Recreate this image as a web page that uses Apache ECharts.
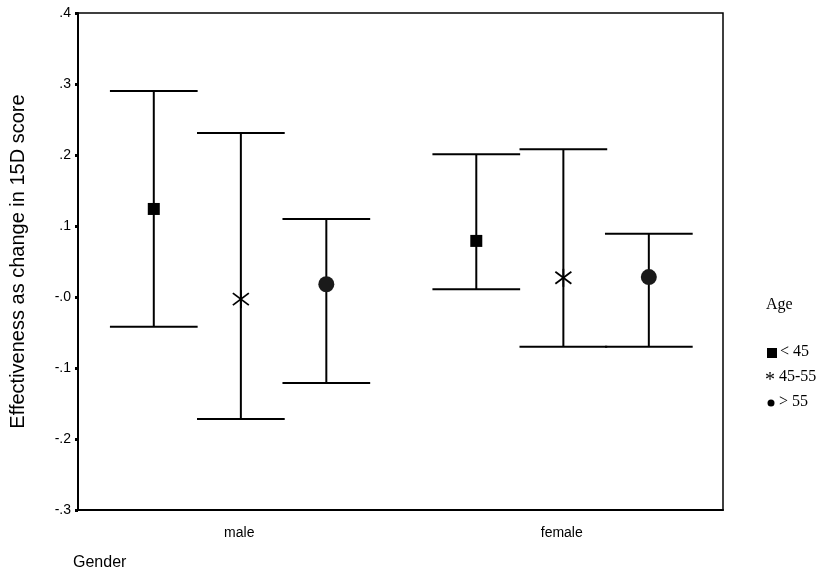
<!DOCTYPE html>
<html>
<head>
<meta charset="utf-8">
<script src="https://cdn.jsdelivr.net/npm/echarts@6/dist/echarts.min.js"></script>
<style>html,body{margin:0;padding:0;background:#fff}#c{width:837px;height:577px}</style>
</head>
<body>
<div id="c"></div>
<script>
const categories = ['male', 'female'];
const ageGroups = ['< 45', '45-55', '> 55'];
const yTickLabels = ['-.3', '-.2', '-.1', '-.0', '.1', '.2', '.3', '.4'];
// per age group: [mean, lower, upper] for male, female
const meanLt45 = [0.124, 0.079];
const lowLt45 = [-0.042, 0.011];
const highLt45 = [0.290, 0.201];
const mean4555 = [-0.003, 0.027];
const low4555 = [-0.172, -0.070];
const high4555 = [0.231, 0.208];
const meanGt55 = [0.018, 0.028];
const lowGt55 = [-0.121, -0.070];
const highGt55 = [0.110, 0.089];

const groups = [
  {mean: meanLt45, low: lowLt45, high: highLt45, marker: 'square', offset: -0.265},
  {mean: mean4555, low: low4555, high: high4555, marker: 'star', offset: 0.005},
  {mean: meanGt55, low: lowGt55, high: highGt55, marker: 'circle', offset: 0.27}
];

function makeSeries(g, idx) {
  const data = categories.map((c, i) => [i, g.low[i], g.high[i], g.mean[i]]);
  return {
    type: 'custom',
    name: ageGroups[idx],
    data: data,
    encode: {x: 0, y: [1, 2, 3]},
    renderItem: function (params, api) {
      const ci = api.value(0);
      const band = api.size([1, 0])[0];
      const cx = api.coord([ci, 0])[0] + g.offset * band;
      const yLo = api.coord([ci, api.value(1)])[1];
      const yHi = api.coord([ci, api.value(2)])[1];
      const yM = api.coord([ci, api.value(3)])[1];
      const half = band * 0.136;
      const ls = {stroke: '#000', lineWidth: 2};
      const children = [
        {type: 'line', shape: {x1: cx, y1: yHi, x2: cx, y2: yLo}, style: ls},
        {type: 'line', shape: {x1: cx - half, y1: yHi, x2: cx + half, y2: yHi}, style: ls},
        {type: 'line', shape: {x1: cx - half, y1: yLo, x2: cx + half, y2: yLo}, style: ls}
      ];
      if (g.marker === 'square') {
        children.push({type: 'rect', shape: {x: cx - 6, y: yM - 6, width: 12, height: 12}, style: {fill: '#000'}});
      } else if (g.marker === 'circle') {
        children.push({type: 'circle', shape: {cx: cx, cy: yM, r: 8}, style: {fill: '#1a1a1a'}});
      } else {
        const s = {stroke: '#000', lineWidth: 1.8};
        children.push({type: 'line', shape: {x1: cx, y1: yM - 9, x2: cx, y2: yM + 9}, style: s});
        children.push({type: 'line', shape: {x1: cx - 8, y1: yM - 6, x2: cx + 8, y2: yM + 6}, style: s});
        children.push({type: 'line', shape: {x1: cx - 8, y1: yM + 6, x2: cx + 8, y2: yM - 6}, style: s});
      }
      return {type: 'group', children: children};
    }
  };
}

const chart = echarts.init(document.getElementById('c'));
chart.setOption({
  animation: false,
  backgroundColor: '#fff',
  grid: {left: 78, right: 114, top: 13, bottom: 67, show: true, borderColor: '#000', borderWidth: 1.5, containLabel: false},
  xAxis: {
    type: 'category',
    data: categories,
    boundaryGap: true,
    axisLine: {onZero: false, lineStyle: {color: '#000', width: 2}},
    axisTick: {alignWithLabel: true, length: 4, lineStyle: {color: '#000', width: 3}, interval: 0},
    axisLabel: {color: '#000', fontFamily: 'Liberation Sans', fontSize: 14, margin: 16},
    splitLine: {show: false}
  },
  yAxis: {
    type: 'value',
    min: -0.3, max: 0.4, interval: 0.1,
    name: 'Effectiveness as change in 15D score',
    nameLocation: 'middle',
    nameGap: 50,
    nameTextStyle: {color: '#000', fontFamily: 'Liberation Sans', fontSize: 20},
    axisLine: {show: true, lineStyle: {color: '#000', width: 2}},
    axisTick: {show: true, length: 3, lineStyle: {color: '#000', width: 3}},
    axisLabel: {color: '#000', fontFamily: 'Liberation Sans', fontSize: 14, margin: 7,
      formatter: function (v, i) { return yTickLabels[i]; }},
    splitLine: {show: false}
  },
  series: groups.map(makeSeries),
  graphic: [
    {type: 'text', left: 73, top: 555, style: {text: 'Gender', fill: '#000', font: '16px "Liberation Sans"'}},
    {type: 'text', left: 766, top: 297, style: {text: 'Age', fill: '#000', font: '16px "Liberation Serif"'}},
    {type: 'rect', shape: {x: 767, y: 348, width: 10, height: 10}, style: {fill: '#000'}},
    {type: 'text', left: 780, top: 344, style: {text: ageGroups[0], fill: '#000', font: '16px "Liberation Serif"'}},
    {type: 'text', left: 765, top: 371, style: {text: '*', fill: '#000', font: '20px "Liberation Serif"'}},
    {type: 'text', left: 779, top: 369, style: {text: ageGroups[1], fill: '#000', font: '16px "Liberation Serif"'}},
    {type: 'circle', shape: {cx: 771, cy: 403, r: 3.5}, style: {fill: '#000'}},
    {type: 'text', left: 779, top: 394, style: {text: ageGroups[2], fill: '#000', font: '16px "Liberation Serif"'}}
  ]
});
</script>
</body>
</html>
